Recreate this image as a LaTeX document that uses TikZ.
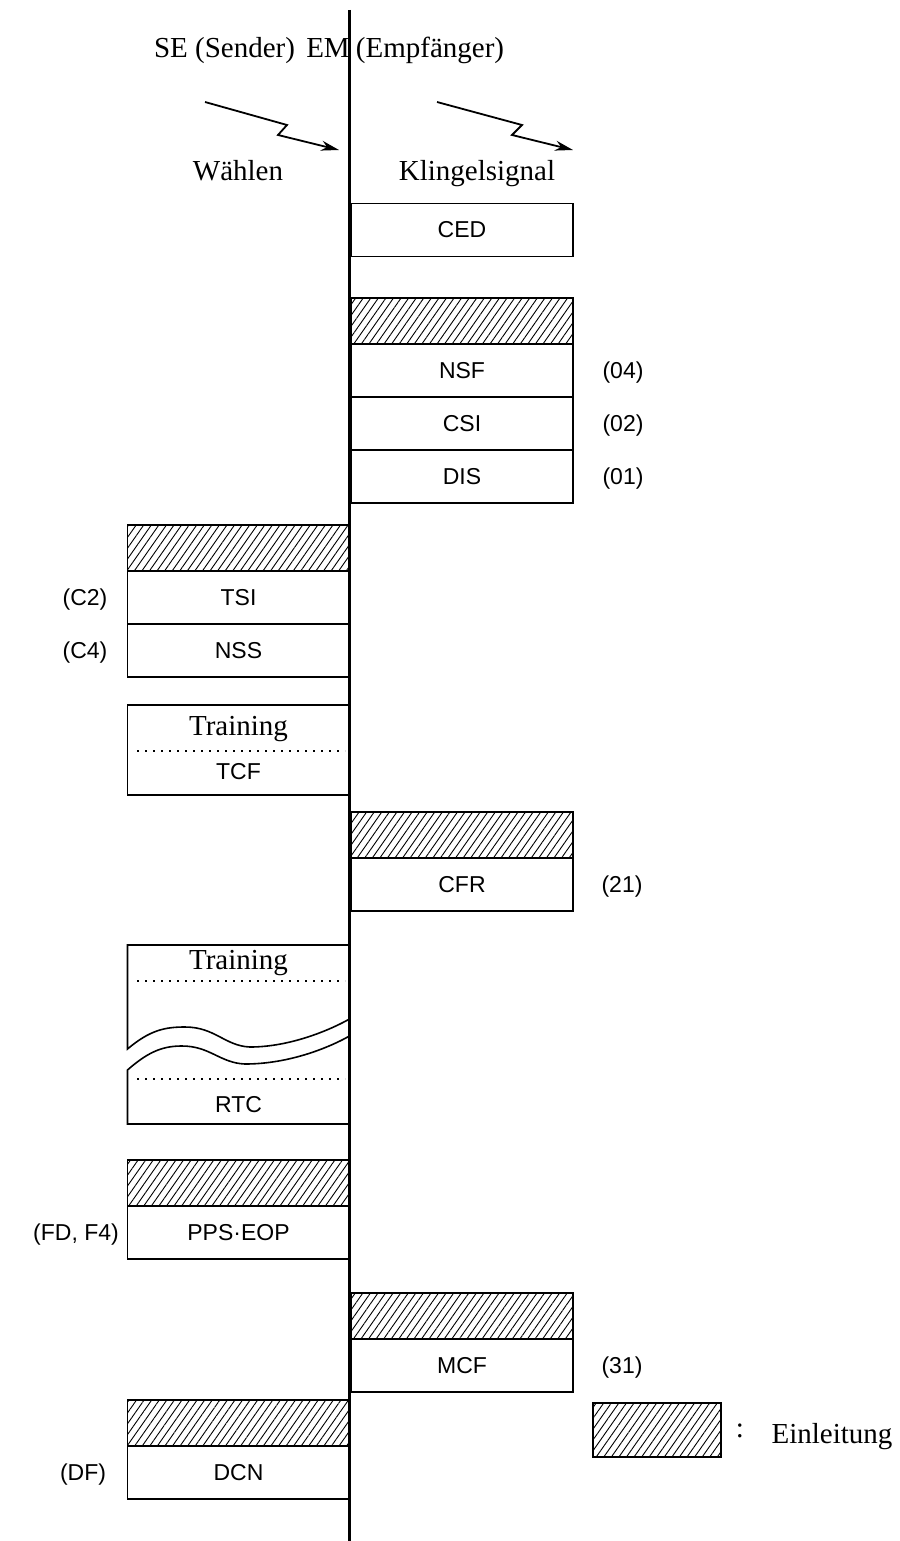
\documentclass[tikz,border=0pt]{standalone}
\usepackage{fontspec}
\setmainfont{Liberation Serif}
\newfontfamily\boxfont{Liberation Sans}
\usetikzlibrary{arrows.meta, patterns.meta, positioning}

\begin{document}
\begin{tikzpicture}[x=0.5pt, y=-0.5pt, font=\fontsize{14.5}{17}\selectfont,
  framebox/.style={draw, line width=0.8pt, minimum width=111pt, minimum height=26.5pt,
    inner sep=0pt, font=\boxfont\fontsize{11.5}{13}\selectfont},
  hatchbox/.style={draw, line width=0.8pt, minimum width=111pt, minimum height=23pt,
    inner sep=0pt, pattern={Lines[angle=55, distance=3.1pt, line width=0.45pt]}},
  code/.style={font=\boxfont\fontsize{11.5}{13}\selectfont, text height=8.2pt, text depth=0pt},
  dotline/.style={line width=0.8pt, dash pattern=on 0.8pt off 3.2pt},
  signal/.style={line width=0.9pt, -{Stealth[length=9pt, width=5pt]}}]

  \useasboundingbox (0,0) rectangle (899,1541);

  % column centres (px from the left edge)
  \def\xL{238.5}
  \def\xR{462}
  \def\xAxis{349.5}

  % Header
  \node[anchor=base] (se) at (224.5,58) {SE (Sender)};
  \node[anchor=base] (em) at (328,58) {EM};
  \node[anchor=base] (emp) at (430,58) {(Empfänger)};

  % Dial / ring signals
  \coordinate (wahlA) at (205,102);
  \coordinate (wahlB) at (339,150);
  \draw[signal] (wahlA) -- (287,125) -- (278,135) -- (wahlB);
  \coordinate (ringA) at (437,102);
  \coordinate (ringB) at (573,150);
  \draw[signal] (ringA) -- (522,125) -- (512,135) -- (ringB);
  \node[anchor=base] (wahl) at (238,180) {Wählen};
  \node[anchor=base] (ring) at (477,180) {Klingelsignal};

  % Empfaenger: CED, NSF, CSI, DIS
  \node[framebox] (ced) at (\xR,230) {CED};
  \node[hatchbox] (preR1) at (\xR,321) {};
  \node[framebox] (nsf) at (\xR,370.5) {NSF};
  \node[framebox] (csi) at (\xR,423.5) {CSI};
  \node[framebox] (dis) at (\xR,476.5) {DIS};
  \node[code] (nsfno) at (623,370.5) {(04)};
  \node[code] (csino) at (623,423.5) {(02)};
  \node[code] (disno) at (623,476.5) {(01)};

  % Sender: TSI, NSS
  \node[hatchbox] (preL1) at (\xL,548) {};
  \node[framebox] (tsi) at (\xL,597.5) {TSI};
  \node[framebox] (nss) at (\xL,650.5) {NSS};
  \node[code] (tsino) at (85,597.5) {(C2)};
  \node[code] (nssno) at (85,650.5) {(C4)};

  % Training + TCF
  \node[framebox, minimum height=45pt] (tcfbox) at (\xL,750) {};
  \node[anchor=base] (trainA) at (\xL,735) {Training};
  \node[framebox, draw=none, minimum height=0pt, minimum width=0pt] (tcf) at (\xL,772) {TCF};
  \draw[dotline] (137,751) -- (345,751);

  % Empfaenger: CFR
  \node[hatchbox] (preR2) at (\xR,835) {};
  \node[framebox] (cfr) at (\xR,884.5) {CFR};
  \node[code] (cfrno) at (622,884.5) {(21)};

  % Training ... RTC (broken box)
  \draw[line width=0.8pt] (\xAxis,1019) .. controls (330,1030) and (290,1047) .. (250,1047)
    .. controls (225,1046) and (215,1027) .. (185,1027)
    .. controls (165,1027) and (150,1030) .. (127.5,1049) -- (127.5,945) -- (\xAxis,945);
  \draw[line width=0.8pt] (\xAxis,1036) .. controls (330,1047) and (290,1064) .. (245,1064)
    .. controls (220,1063) and (210,1046) .. (182,1046)
    .. controls (165,1046) and (150,1050) .. (127.5,1070) -- (127.5,1124) -- (\xAxis,1124);
  \node[anchor=base] (trainB) at (\xL,969) {Training};
  \draw[dotline] (137,981) -- (345,981);
  \draw[dotline] (137,1079) -- (345,1079);
  \node[framebox, draw=none, minimum height=0pt, minimum width=0pt] (rtc) at (\xL,1105) {RTC};

  % Sender: PPS-EOP
  \node[hatchbox] (preL2) at (\xL,1183) {};
  \node[framebox] (pps) at (\xL,1232.5) {PPS·EOP};
  \node[code] (ppsno) at (76,1232.5) {(FD, F4)};

  % Empfaenger: MCF
  \node[hatchbox] (preR3) at (\xR,1316) {};
  \node[framebox] (mcf) at (\xR,1365.5) {MCF};
  \node[code] (mcfno) at (622,1365.5) {(31)};

  % Sender: DCN
  \node[hatchbox] (preL3) at (\xL,1423) {};
  \node[framebox] (dcn) at (\xL,1472.5) {DCN};
  \node[code] (dcnno) at (83,1472.5) {(DF)};

  % Legend
  \node[hatchbox, minimum width=64pt, minimum height=27pt] (legend) at (657,1430) {};
  \node[anchor=base] (colon) at (740,1437) {:};
  \node[anchor=base] (einl) at (832,1443) {Einleitung};

  % Time axis
  \coordinate (axtop) at (\xAxis,10);
  \coordinate (axbot) at (\xAxis,1541);
  \draw[line width=1.5pt] (axtop) -- (axbot);

\end{tikzpicture}
\end{document}
